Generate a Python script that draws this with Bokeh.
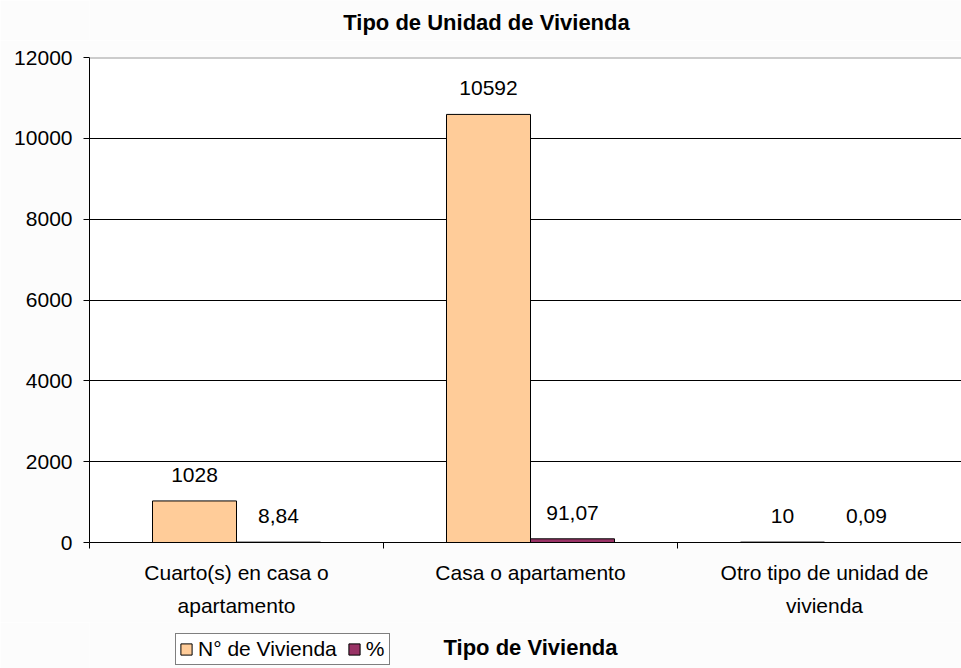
from bokeh.plotting import figure
from bokeh.layouts import column
from bokeh.models import (Range1d, FixedTicker, ColumnDataSource, Legend, LegendItem,
                          Span, Label)
from bokeh.embed import file_html
from bokeh.resources import INLINE
from bokeh.core.properties import value

# ---- data ----
categories = ["Cuarto(s) en casa o apartamento", "Casa o apartamento",
              "Otro tipo de unidad de vivienda"]
category_labels = ["Cuarto(s) en casa o\napartamento", "Casa o apartamento",
                   "Otro tipo de unidad de\nvivienda"]
viviendas = [1028, 10592, 10]
porcentaje = [8.84, 91.07, 0.09]
viviendas_labels = ["1028", "10592", "10"]
porcentaje_labels = ["8,84", "91,07", "0,09"]
series_names = ["N\u00b0 de Vivienda", "%"]
y_ticks = [0, 2000, 4000, 6000, 8000, 10000, 12000]
title_text = "Tipo de Unidad de Vivienda"
x_title = "Tipo de Vivienda"

FONT = "Liberation Sans"
ORANGE = "#FFCC99"
MAROON = "#993366"
BG = "#FCFCFC"
W = 961
LEFT = 89  # frame left edge (column aligns all frames to this)

n = len(categories)
bar_w = 0.2857
idx = list(range(n))
src = ColumnDataSource(dict(
    x1=[i + 0.5 - bar_w / 2 for i in idx],
    x2=[i + 0.5 + bar_w / 2 for i in idx],
    v=viviendas, p=porcentaje,
    vl=viviendas_labels, pl=porcentaje_labels,
))


def blank(h):
    f = figure(width=W, height=h, output_backend="svg", toolbar_location=None,
               x_range=Range1d(0, W - LEFT), y_range=Range1d(0, h),
               x_axis_location=None, y_axis_location=None,
               min_border_left=LEFT, min_border_right=0, min_border_top=0,
               min_border_bottom=0,
               background_fill_color=BG, border_fill_color=BG,
               outline_line_color=None)
    f.xgrid.visible = False
    f.ygrid.visible = False
    return f


# ---- title strip ----
top = blank(40)
top.add_layout(Label(x=486 - LEFT, y=18, x_units="screen", y_units="screen",
                     text=title_text, text_align="center", text_baseline="middle",
                     text_font=FONT, text_font_size="22px", text_font_style="bold",
                     text_color="black"))

# ---- main chart ----
p = figure(width=W, height=582, output_backend="svg", toolbar_location=None,
           x_range=Range1d(0, (W - LEFT) / 294), y_range=Range1d(0, 12000),
           min_border_left=LEFT, min_border_right=0, min_border_top=17,
           min_border_bottom=80,
           background_fill_color="white", border_fill_color=BG,
           outline_line_color=None)

r1 = p.vbar(x="x1", top="v", width=bar_w, source=src, fill_color=ORANGE,
            line_color="black", line_width=1)
r2 = p.vbar(x="x2", top="p", width=bar_w, source=src, fill_color=MAROON,
            line_color="black", line_width=1)

p.text(x="x1", y="v", text="vl", source=src, text_align="center",
       text_baseline="alphabetic", y_offset=-26, text_font=value(FONT),
       text_font_size="21px", text_color="black")
p.text(x="x2", y="p", text="pl", source=src, text_align="center",
       text_baseline="alphabetic", y_offset=-26, text_font=value(FONT),
       text_font_size="21px", text_color="black")

p.add_layout(Span(location=y_ticks[-1], dimension="width", line_color="#999999",
                  line_width=2))

p.yaxis.ticker = FixedTicker(ticks=y_ticks)
p.yaxis.major_label_text_font = FONT
p.yaxis.major_label_text_font_size = "21px"
p.yaxis.major_label_text_color = "black"
p.yaxis.major_tick_out = 6
p.yaxis.major_tick_in = 0
p.yaxis.minor_tick_out = 0
p.yaxis.minor_tick_in = 0
p.yaxis.major_label_standoff = 11
p.yaxis.axis_line_color = "black"
p.yaxis.major_tick_line_color = "black"

p.xaxis.ticker = FixedTicker(ticks=[i + 0.5 for i in idx], minor_ticks=list(idx))
p.xaxis.major_label_overrides = {i + 0.5: category_labels[i] for i in idx}
p.xaxis.major_label_text_font = FONT
p.xaxis.major_label_text_font_size = "21px"
p.xaxis.major_label_text_color = "black"
p.xaxis.major_label_text_line_height = 1.45
p.xaxis.major_tick_out = 0
p.xaxis.major_tick_in = 0
p.xaxis.minor_tick_out = 6
p.xaxis.minor_tick_in = 0
p.xaxis.minor_tick_line_color = "black"
p.xaxis.major_label_standoff = 12
p.xaxis.axis_line_color = "black"

p.xgrid.grid_line_color = None
p.ygrid.ticker = FixedTicker(ticks=y_ticks)
p.ygrid.grid_line_color = "black"
p.ygrid.grid_line_width = 1

# ---- bottom strip: legend + axis title ----
bot = blank(46)
# legend-only renderers, placed outside the visible range
offrange = ColumnDataSource(dict(x=[-5000], top=[-5000]))
d1 = bot.vbar(x="x", top="top", width=1, source=offrange, fill_color=ORANGE,
              line_color="black")
d2 = bot.vbar(x="x", top="top", width=1, source=offrange, fill_color=MAROON,
              line_color="black")
legend = Legend(items=[LegendItem(label=series_names[0], renderers=[d1]),
                       LegendItem(label=series_names[1], renderers=[d2])],
                orientation="horizontal", location=(175 - LEFT, 3),
                label_text_font=FONT, label_text_font_size="21px",
                label_text_color="black", glyph_width=14, glyph_height=14,
                label_height=20, label_standoff=5, spacing=10, padding=3,
                margin=0, border_line_color="black", border_line_width=1,
                background_fill_color="white", background_fill_alpha=1)
bot.add_layout(legend)
bot.add_layout(Label(x=530 - LEFT, y=21, x_units="screen", y_units="screen",
                     text=x_title, text_align="center", text_baseline="middle",
                     text_font=FONT, text_font_size="22px", text_font_style="bold",
                     text_color="black"))

layout = column(top, p, bot, spacing=0)
open("out.html", "w").write(file_html(layout, INLINE))
